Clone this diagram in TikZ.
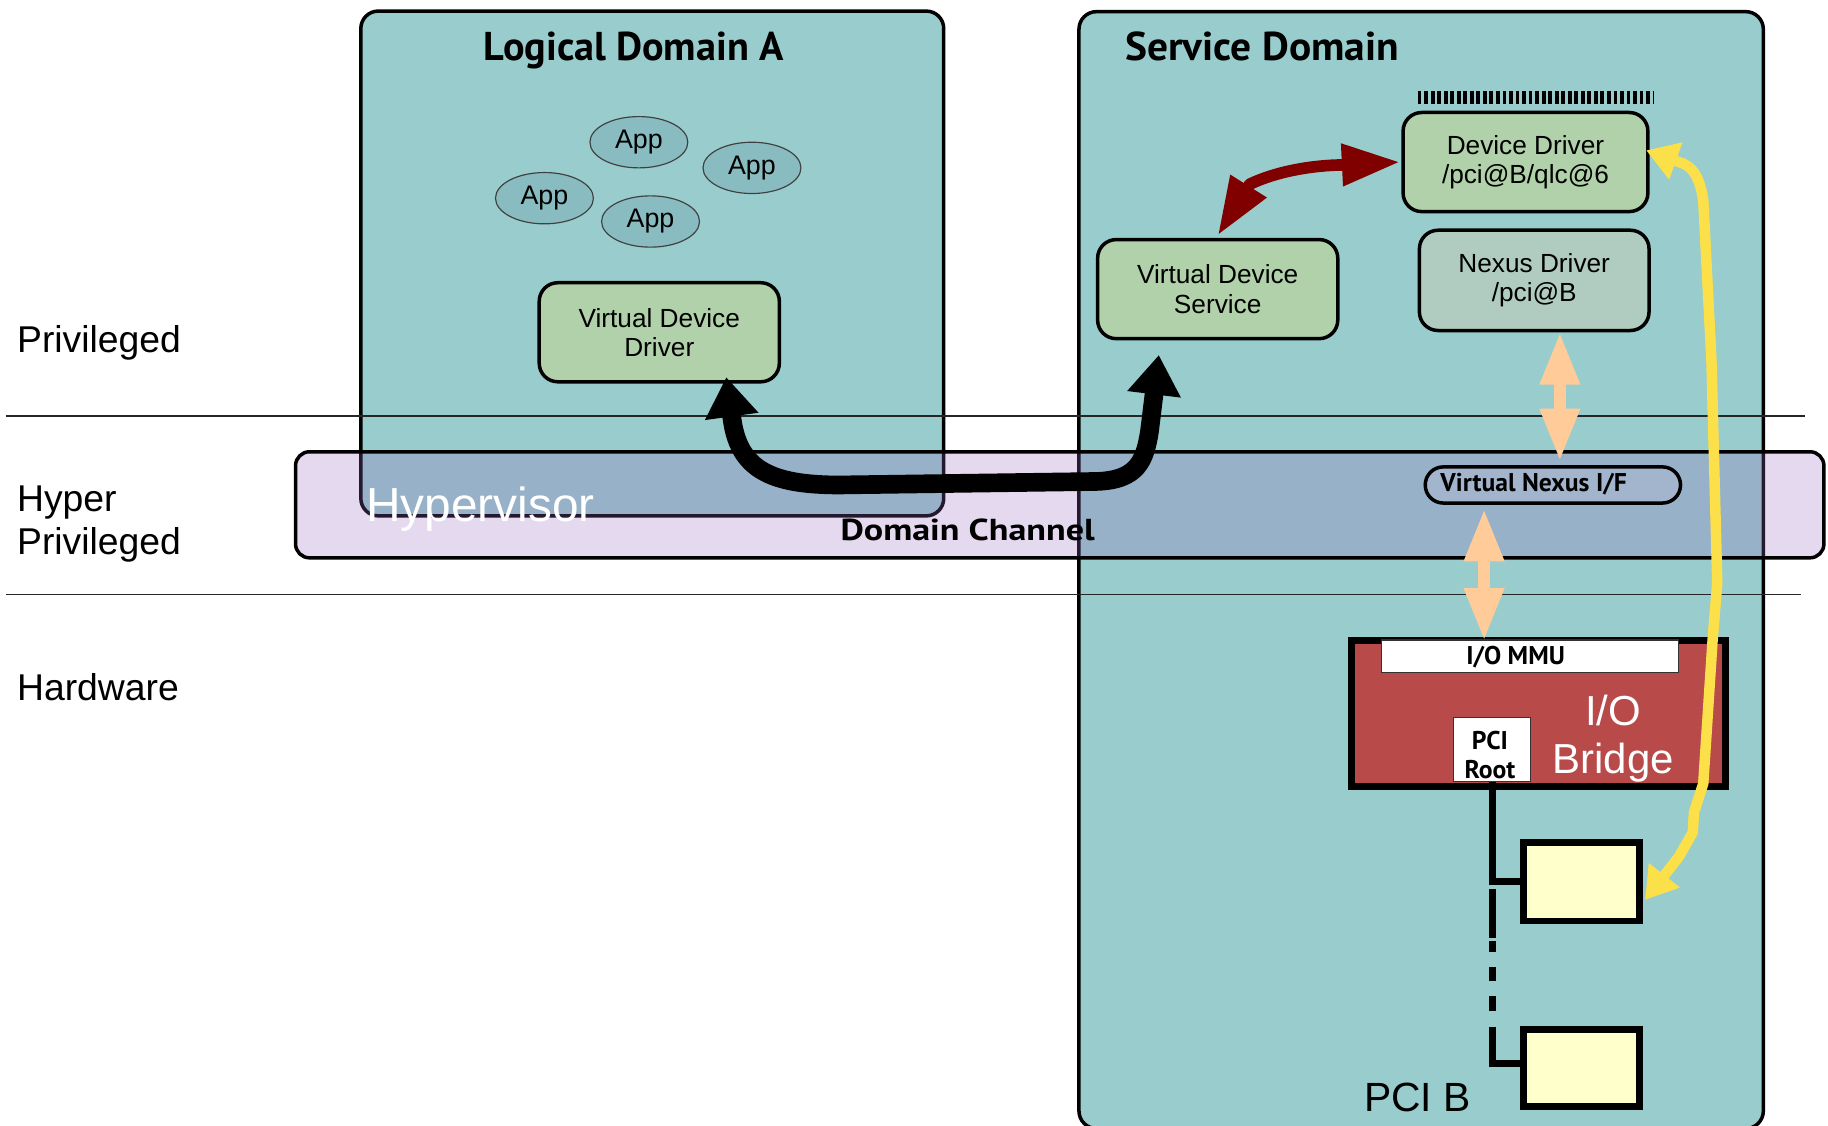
\documentclass[tikz,border=0pt]{standalone}
\usepackage{graphicx}
\usepackage{fontspec}
\setmainfont{Liberation Sans}
\newfontfamily\headfont{PT Sans}
\usetikzlibrary{arrows.meta,shapes.geometric}

\definecolor{domainteal}{HTML}{99CCCC}
\definecolor{appteal}{HTML}{88BCC0}
\definecolor{drvgreen}{HTML}{B0D1A9}
\definecolor{nexusgray}{HTML}{B0CCC0}
\definecolor{hypviolet}{RGB}{149,102,192}
\definecolor{vnifblue}{HTML}{A2B5CD}
\definecolor{bridgered}{HTML}{B94A4A}
\definecolor{cardyellow}{HTML}{FFFFCC}
\definecolor{chanred}{HTML}{800000}
\definecolor{peach}{HTML}{FFCC99}
\definecolor{signalyellow}{HTML}{FBE04A}

\tikzset{
  domainbox/.style={draw=black, line width=3pt, fill=domainteal, rounded corners=15pt, inner sep=0pt},
  drvbox/.style={draw=black, line width=3pt, rounded corners=16pt, inner sep=0pt, align=center,
    font=\fontsize{22.5}{25}\selectfont},
  appnode/.style={ellipse, draw=black!75, line width=1pt, fill=appteal, minimum width=84pt,
    minimum height=44pt, inner sep=0pt, font=\fontsize{23}{26}\selectfont},
  tiertext/.style={inner sep=0pt, align=left, font=\fontsize{32}{37}\selectfont},
  headtext/.style={inner sep=0pt, font=\headfont\bfseries\fontsize{34.5}{40}\selectfont},
  tagtext/.style={inner sep=0pt, align=center, font=\headfont\bfseries\fontsize{22}{24.6}\selectfont},
  tierline/.style={draw=black!85, line width=1.2pt},
  hwbox/.style={draw=black, line width=6pt, inner sep=0pt},
  tagbox/.style={draw=black!80, line width=1pt, fill=white, inner sep=0pt},
  chanarrow/.style={draw=black, line width=16pt, line join=round,
    arrows={Triangle[length=34pt,width=44pt]-Triangle[length=34pt,width=44pt]}},
  ctrlarrow/.style={draw=chanred, line width=10pt, line join=round,
    arrows={Triangle[length=50pt,width=34pt]-Triangle[length=50pt,width=34pt]}},
  nexusarrow/.style={draw=peach, line width=10pt,
    arrows={Triangle[length=45pt,width=32pt]-Triangle[length=45pt,width=32pt]}},
  dmaarrow/.style={draw=signalyellow, line width=9pt, line join=round,
    arrows={Triangle[length=27pt,width=32pt]-Triangle[length=27pt,width=32pt]}},
  busline/.style={draw=black, line width=6pt},
}

\begin{document}
\begin{tikzpicture}[x=1pt,y=-1pt]
\useasboundingbox (0,0) rectangle (1568,965);

% domains
\node[domainbox, minimum width=500pt, minimum height=433pt] (lda) at (559.5,226) {};
\node[domainbox, minimum width=587pt, minimum height=958pt] (sd) at (1219,489) {};

% hypervisor layer, translucent over the domains
\node[draw=black, line width=3pt, fill=hypviolet, fill opacity=0.25, rounded corners=12pt,
  minimum width=1311pt, minimum height=91pt, inner sep=0pt] (hyp) at (909,433) {};

% privilege tiers
\draw[tierline] (5,357) -- (1548,357);
\draw[tierline] (5,510) -- (1545,510);
\node[tiertext, anchor=base west] (tierPriv) at (14.5,302) {Privileged};
\node[tiertext, anchor=west] (tierHyp) at (14.5,449.4) {Hyper\\Privileged};
\node[tiertext, anchor=base west] (tierHw) at (14.5,601) {Hardware};

% titles
\node[headtext, anchor=base] (ldaTitle) at (543.5,52) {Logical Domain A};
\node[headtext, anchor=base west] (sdTitle) at (965,52) {\scalebox{1.03}[1]{Service Domain}};

% guest domain contents
\node[appnode] (app1) at (548,122) {App};
\node[appnode] (app2) at (645,144) {App};
\node[appnode] (app3) at (467,170) {App};
\node[appnode] (app4) at (558,190) {App};
\node[drvbox, fill=drvgreen, minimum width=206pt, minimum height=85pt] (vdd) at (565.5,285)
  {Virtual Device\\Driver};

% service domain contents
\node[drvbox, fill=drvgreen, minimum width=206pt, minimum height=85pt] (vds) at (1044.5,248)
  {Virtual Device\\Service};
\node[drvbox, fill=drvgreen, minimum width=210pt, minimum height=85pt] (dd) at (1308.5,139)
  {Device Driver\\/pci@B/qlc@6};
\node[drvbox, fill=nexusgray, minimum width=197pt, minimum height=86pt] (nd) at (1316,240.5)
  {Nexus Driver\\/pci@B};
\draw[line width=11pt, dash pattern=on 3.3pt off 2.3pt] (1216,83.5) -- (1418,83.5);

\node[draw=black, line width=3pt, fill=vnifblue, rounded corners=15.5pt,
  minimum width=219pt, minimum height=31pt, inner sep=0pt] (vnif) at (1332,416) {};
\node[tagtext, anchor=base] (vnifText) at (1315.5,421.7) {Virtual Nexus I/F};

% I/O bridge and PCI bus
\node[hwbox, fill=bridgered, minimum width=321pt, minimum height=126pt] (bridge) at (1319.5,612) {};
\node[tagbox, minimum width=255pt, minimum height=28pt] (iommu) at (1312.5,563) {};
\node[tagtext, anchor=base] (iommuText) at (1300,570) {I/O MMU};
\node[tagbox, minimum width=66pt, minimum height=55pt] (pciroot) at (1280,643) {};
\node[tagtext] (pcirootText) at (1278,647.5) {PCI\\Root};
\node[inner sep=0pt, align=center, text=white, font=\fontsize{36}{41}\selectfont] (bridgeText)
  at (1383.6,633.3) {I/O\\Bridge};

\node[hwbox, fill=cardyellow, minimum width=99pt, minimum height=67pt] (card1) at (1356.5,756.5) {};
\node[hwbox, fill=cardyellow, minimum width=99pt, minimum height=66pt] (card2) at (1356.5,916) {};
\draw[busline] (pciroot.south) |- (card1.west);
\coordinate (busTail) at ([yshift=-6pt]pciroot.south |- card1.west);
\draw[busline, dash pattern=on 42pt off 3pt on 9pt off 13pt on 12pt off 13pt on 13pt off 13pt on 200pt]
  (busTail) |- ([yshift=4pt]card2.west);
\node[inner sep=0pt, anchor=base west, font=\fontsize{35}{40}\selectfont] (pciB) at (1170,953.5) {PCI B};

% connectors
\draw[ctrlarrow] ([yshift=2pt]vds.north) -- (1072,158)
  .. controls (1095,147) and (1125,142) .. (1150,141.5) -- ([xshift=-1pt]dd.west);
\draw[chanarrow] ([xshift=57.5pt,yshift=5.5pt]vdd.south) -- (628,360)
  .. controls (634,402) and (660,416) .. (720,416) -- (940,413)
  .. controls (976,412) and (982,395) .. (986,370) -- ([xshift=-50.5pt,yshift=-12.5pt]vds.south);
\draw[nexusarrow] ([xshift=22pt]nd.south) -- ([xshift=6pt,yshift=3.5pt]vnif.north);
\draw[nexusarrow] ([xshift=-59pt,yshift=-3.5pt]vnif.south) -- ([xshift=-39.5pt,yshift=-1pt]iommu.north);
\draw[dmaarrow] ([xshift=2pt,yshift=-15.5pt]card1.east) -- (1440,735) -- (1452,714) -- (1453,697)
  -- (1461,672) -- (1469,549) -- (1473,500) -- (1468,309) -- (1461,172)
  .. controls (1458,152) and (1452,142) .. (1440,139) -- ([xshift=-3pt,yshift=10pt]dd.east);

% layer captions
\node[inner sep=0pt, anchor=base west, text=white, font=\fontsize{41}{46}\selectfont] (hypText)
  at (314,447) {Hypervisor};
\node[headtext, anchor=base, font=\headfont\bfseries\fontsize{26}{30}\selectfont] (chanText)
  at (830,464) {\scalebox{1.19}[1]{Domain Channel}};
\end{tikzpicture}
\end{document}
